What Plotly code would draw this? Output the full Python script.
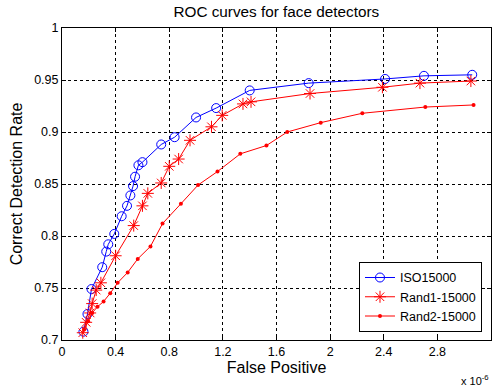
import plotly.graph_objects as go

# x values in units of 1e-6
iso_x = [0.16, 0.19, 0.22, 0.30, 0.33, 0.345, 0.39, 0.445, 0.485, 0.51, 0.53, 0.545, 0.57, 0.60,
         0.74, 0.84, 1.00, 1.15, 1.40, 1.84, 2.41, 2.70, 3.06]
iso_y = [0.708, 0.725, 0.749, 0.770, 0.785, 0.792, 0.802, 0.819, 0.829, 0.839, 0.848, 0.857, 0.868, 0.871,
         0.888, 0.895, 0.914, 0.923, 0.940, 0.947, 0.951, 0.954, 0.955]

r1_x = [0.155, 0.18, 0.21, 0.225, 0.255, 0.29, 0.40, 0.535, 0.60, 0.64, 0.74, 0.80, 0.87, 0.955,
        1.115, 1.195, 1.35, 1.41, 1.85, 2.39, 2.67, 3.05]
r1_y = [0.707, 0.717, 0.726, 0.735, 0.748, 0.755, 0.781, 0.810, 0.829, 0.841, 0.851, 0.867, 0.874, 0.892,
        0.905, 0.916, 0.927, 0.929, 0.937, 0.943, 0.947, 0.949]

r2_x = [0.165, 0.195, 0.225, 0.265, 0.31, 0.36, 0.415, 0.49, 0.565, 0.66, 0.75, 0.887, 1.015, 1.16,
        1.33, 1.525, 1.68, 1.93, 2.24, 2.71, 3.07]
r2_y = [0.710, 0.718, 0.726, 0.732, 0.737, 0.745, 0.755, 0.765, 0.778, 0.790, 0.812, 0.831, 0.849, 0.862,
        0.879, 0.887, 0.900, 0.909, 0.918, 0.924, 0.926]

names = ["ISO15000", "Rand1-15000", "Rand2-15000"]
x_ticks = [0, 0.4, 0.8, 1.2, 1.6, 2.0, 2.4, 2.8, 3.2]
x_tick_text = ["0", "0.4", "0.8", "1.2", "1.6", "2", "2.4", "2.8", "3.2"]
y_ticks = [0.7, 0.75, 0.8, 0.85, 0.9, 0.95, 1.0]
y_tick_text = ["0.7", "0.75", "0.8", "0.85", "0.9", "0.95", "1"]

FONT = "Liberation Sans, Arial, sans-serif"

fig = go.Figure()
fig.add_trace(go.Scatter(x=iso_x, y=iso_y, name=names[0], mode="lines+markers",
                         line=dict(color="#0000ff", width=1),
                         marker=dict(symbol="circle-open", size=9, color="#0000ff", line=dict(width=1))))
fig.add_trace(go.Scatter(x=r1_x, y=r1_y, name=names[1], mode="lines+markers",
                         line=dict(color="#ff0000", width=1),
                         marker=dict(symbol="asterisk-open", size=10, color="#ff0000", line=dict(width=1, color="#ff0000"))))
fig.add_trace(go.Scatter(x=r2_x, y=r2_y, name=names[2], mode="lines+markers",
                         line=dict(color="#ff0000", width=1),
                         marker=dict(symbol="circle", size=4, color="#ff0000")))

axis_common = dict(showline=True, linecolor="black", linewidth=1, mirror="allticks",
                   ticks="inside", ticklen=4, tickcolor="black",
                   showgrid=True, gridcolor="black", gridwidth=1, griddash="3px,3px",
                   zeroline=False, tickfont=dict(family=FONT, size=12.5, color="black"))

fig.update_xaxes(range=[0, 3.2], tickvals=x_ticks, ticktext=x_tick_text,
                 title=dict(text="False Positive", font=dict(family=FONT, size=16, color="black"), standoff=3),
                 **axis_common)
fig.update_yaxes(range=[0.7, 1.0], tickvals=y_ticks, ticktext=y_tick_text,
                 title=dict(text="Correct Detection Rate", font=dict(family=FONT, size=16, color="black"), standoff=7),
                 **axis_common)

fig.update_layout(
    width=497, height=386,
    margin=dict(l=62, r=6, t=28, b=46),
    paper_bgcolor="white", plot_bgcolor="white",
    title=dict(text="ROC curves for face detectors", x=0.556, xanchor="center", y=0.971, yanchor="middle",
               font=dict(family=FONT, size=15.3, color="black")),
    legend=dict(x=0.979, xanchor="right", y=0.026, yanchor="bottom",
                bgcolor="white", bordercolor="black", borderwidth=1,
                font=dict(family=FONT, size=12.5, color="black"),
                tracegroupgap=0, itemwidth=30),
    showlegend=True,
    annotations=[dict(text="x 10<sup>-6</sup>", xref="paper", yref="paper", x=1.0, y=-0.1,
                      xanchor="right", yanchor="top", showarrow=False,
                      font=dict(family=FONT, size=11, color="black"))],
)

fig.write_html("out.html")
